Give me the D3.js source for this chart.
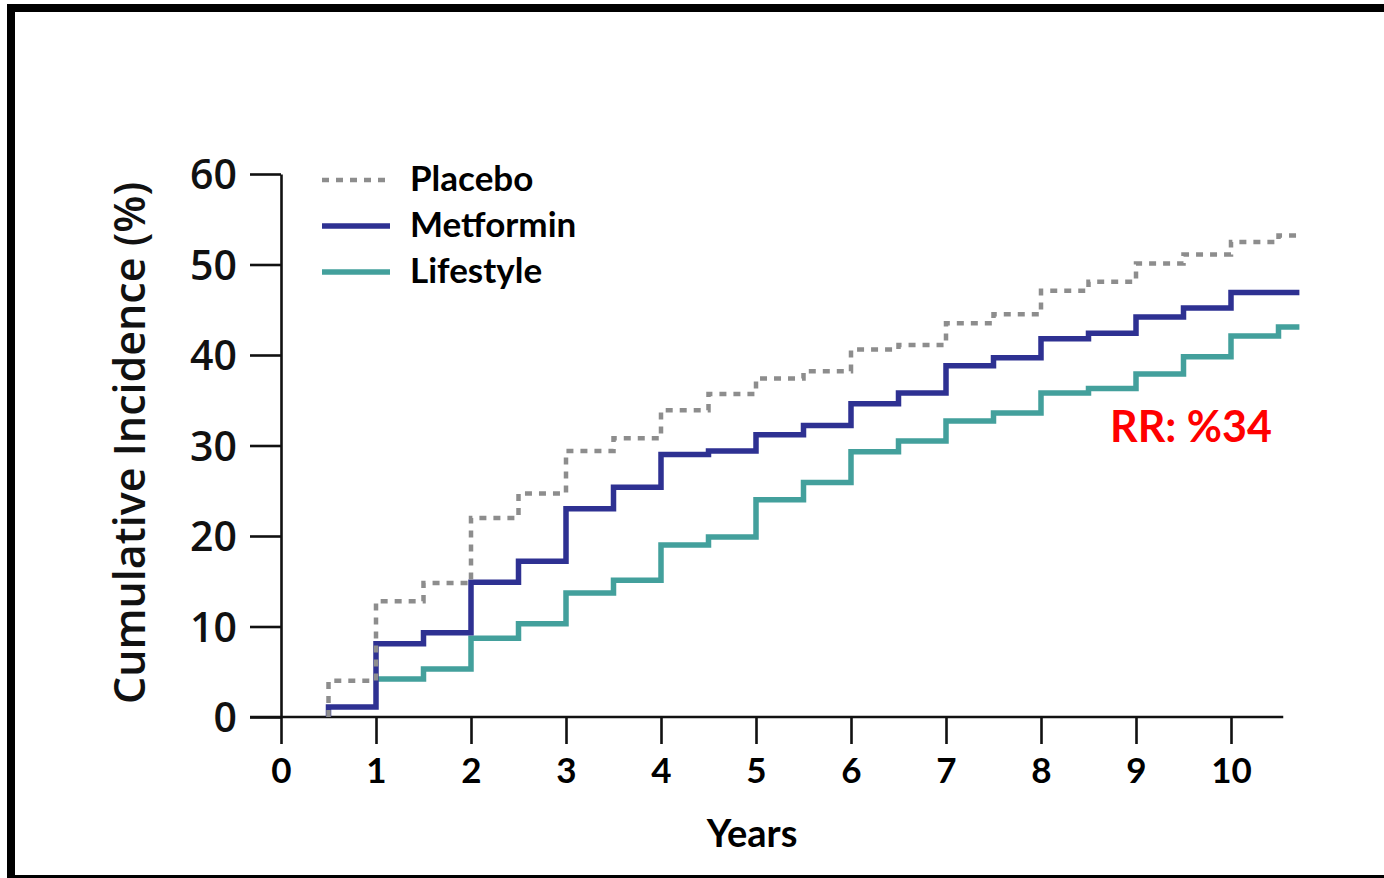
<!DOCTYPE html>
<html>
<head>
<meta charset="utf-8">
<script src="https://cdn.jsdelivr.net/npm/d3@7"></script>
<style>
  body { margin: 0; background: #fff; }
  svg { display: block; }
</style>
</head>
<body>
<script>
// Follow-up times (years) at which cumulative incidence steps
const years = [0.5, 1, 1.5, 2, 2.5, 3, 3.5, 4, 4.5, 5, 5.5, 6, 6.5, 7, 7.5, 8, 8.5, 9, 9.5, 10, 10.5];
const followUpEnd = 10.72;

// Cumulative incidence of diabetes (%) per arm
const placebo   = [4.0, 12.8, 14.8, 22.0, 24.7, 29.4, 30.8, 33.9, 35.7, 37.4, 38.2, 40.6, 41.1, 43.5, 44.5, 47.1, 48.1, 50.1, 51.1, 52.5, 53.2];
const metformin = [1.1, 8.1, 9.3, 14.9, 17.2, 23.0, 25.4, 29.0, 29.4, 31.2, 32.2, 34.6, 35.8, 38.8, 39.7, 41.8, 42.4, 44.2, 45.2, 46.9, 46.9];
const lifestyle = [null, 4.2, 5.3, 8.7, 10.3, 13.7, 15.1, 19.0, 19.9, 24.0, 25.9, 29.3, 30.5, 32.7, 33.6, 35.8, 36.3, 37.9, 39.8, 42.1, 43.1];

const seriesNames = ["Placebo", "Metformin", "Lifestyle"];
const xTicks = [0, 1, 2, 3, 4, 5, 6, 7, 8, 9, 10];
const yTicks = [0, 10, 20, 30, 40, 50, 60];
const xTitle = "Years";
const yTitle = "Cumulative Incidence (%)";
const rrLabel = "RR: %34";

const W = 1384, H = 878;
const svg = d3.select("body").append("svg").attr("width", W).attr("height", H);

svg.append("rect").attr("width", W).attr("height", H).attr("fill", "#fff");

// framing border (right edge runs off the page)
svg.append("rect")
  .attr("x", 11).attr("y", 8).attr("width", 1420).attr("height", 871)
  .attr("fill", "none").attr("stroke", "#000").attr("stroke-width", 8);

const x = d3.scaleLinear().domain([0, 10]).range([281, 1231]);
const y = d3.scaleLinear().domain([0, 60]).range([717, 174]);

const boldFont = "Lato, 'Open Sans', sans-serif";
const axisColor = "#111";

// y axis
const yAxis = d3.axisLeft(y).tickValues(yTicks).tickSize(31).tickSizeOuter(0).tickPadding(13);
const gy = svg.append("g").attr("transform", `translate(${x(0)},0)`).call(yAxis);
gy.select(".domain").attr("stroke", axisColor).attr("stroke-width", 2.6);
gy.selectAll(".tick line").attr("stroke", axisColor).attr("stroke-width", 2.6);
gy.selectAll(".tick text")
  .attr("font-family", "'Open Sans', sans-serif")
  .attr("font-weight", 600)
  .attr("font-size", 41)
  .attr("fill", "#111")
  .attr("dy", "0.36em");

// x axis
const xAxis = d3.axisBottom(x).tickValues(xTicks).tickSize(27).tickSizeOuter(0).tickPadding(14);
const gx = svg.append("g").attr("transform", `translate(0,${y(0)})`).call(xAxis);
gx.select(".domain").remove();
gx.selectAll(".tick line").attr("stroke", axisColor).attr("stroke-width", 2.6);
gx.selectAll(".tick text")
  .attr("font-family", boldFont)
  .attr("font-weight", 700)
  .attr("font-size", 35)
  .attr("fill", "#000")
  .attr("dy", "0.72em");
svg.append("line")
  .attr("x1", x(0) - 31).attr("x2", x(10.55))
  .attr("y1", y(0)).attr("y2", y(0))
  .attr("stroke", axisColor).attr("stroke-width", 2.6);

// axis titles
svg.append("text")
  .attr("x", 752).attr("y", 847)
  .attr("text-anchor", "middle")
  .attr("font-family", boldFont).attr("font-weight", 700).attr("font-size", 38)
  .text(xTitle);

svg.append("text")
  .attr("transform", `translate(145,443) rotate(-90)`)
  .attr("text-anchor", "middle")
  .attr("font-family", "'Open Sans', sans-serif").attr("font-weight", 600).attr("font-size", 43)
  .attr("fill", "#111")
  .text(yTitle);

// step curves
const styles = {
  Placebo:   { color: "#8d8d8d", width: 4.5, dash: "7 7" },
  Metformin: { color: "#2e3192", width: 5.5, dash: null },
  Lifestyle: { color: "#43a09c", width: 5.5, dash: null }
};
const seriesData = { Placebo: placebo, Metformin: metformin, Lifestyle: lifestyle };

const line = d3.line().x(d => x(d[0])).y(d => y(d[1])).curve(d3.curveStepAfter);

// arms with a leading null start directly at their first recorded value
function stepPoints(vals) {
  const pts = [];
  vals.forEach((v, i) => {
    if (v == null) return;
    if (!pts.length && i === 0) pts.push([years[i], 0]);
    pts.push([years[i], v]);
  });
  pts.push([followUpEnd, pts[pts.length - 1][1]]);
  return pts;
}

["Lifestyle", "Metformin", "Placebo"].forEach(name => {
  const s = styles[name];
  svg.append("path")
    .datum(stepPoints(seriesData[name]))
    .attr("d", line)
    .attr("fill", "none")
    .attr("stroke", s.color)
    .attr("stroke-width", s.width)
    .attr("stroke-dasharray", s.dash)
    .attr("stroke-linejoin", "miter");
});

// legend
const legendY = d3.scalePoint().domain(seriesNames).range([180, 272]);
const legend = svg.append("g");
seriesNames.forEach(name => {
  const s = styles[name];
  const ly = legendY(name);
  legend.append("line")
    .attr("x1", 322).attr("x2", 390).attr("y1", ly).attr("y2", ly)
    .attr("stroke", s.color).attr("stroke-width", s.width)
    .attr("stroke-dasharray", s.dash);
  legend.append("text")
    .attr("x", 410).attr("y", ly + 11)
    .attr("font-family", boldFont).attr("font-weight", 700).attr("font-size", 35)
    .attr("fill", "#000")
    .text(name);
});

// relative risk annotation
svg.append("text")
  .attr("x", 1110).attr("y", 442)
  .attr("font-family", boldFont).attr("font-weight", 700).attr("font-size", 43)
  .attr("fill", "#ff0000")
  .text(rrLabel);
</script>
</body>
</html>
